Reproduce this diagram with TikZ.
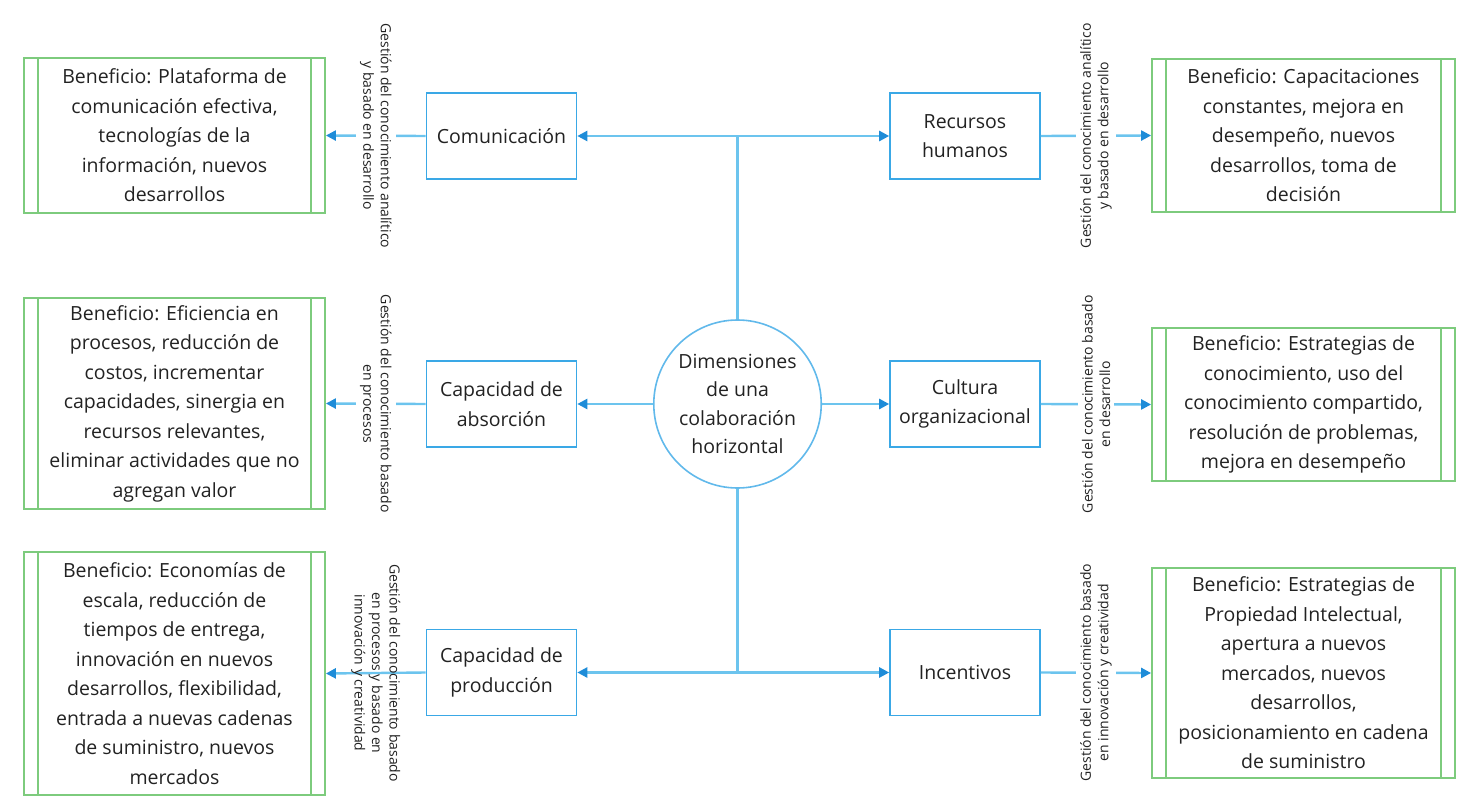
\documentclass[tikz,border=0pt]{standalone}
\usepackage{fontspec}
\setmainfont{Open Sans}
\usetikzlibrary{shapes.geometric,arrows.meta}
\definecolor{gbord}{HTML}{7DCB7D}
\definecolor{bbord}{HTML}{3AA8E6}
\definecolor{conn}{HTML}{6CC4EE}
\definecolor{tipc}{HTML}{1E8CD8}
\definecolor{txt}{HTML}{222222}
\begin{document}
\begin{tikzpicture}[x=1pt,y=-1pt,
 benefit/.style={draw=gbord, line width=1.8pt, minimum width=301pt, align=center, inner sep=0pt, text=txt, font=\fontsize{19.5}{29.5}\selectfont},
 dim/.style={draw=bbord, line width=1.6pt, minimum width=150pt, minimum height=86pt, align=center, inner sep=0pt, text=txt, font=\fontsize{19.5}{29.5}\selectfont, fill=white},
 centre/.style={draw=bbord!80, line width=1.6pt, ellipse, minimum width=150pt, minimum height=168pt, align=center, inner sep=0pt, text=txt, font=\fontsize{19.5}{28.5}\selectfont, fill=white},
 link/.style={draw=conn, line width=2.4pt, -{Triangle[length=10pt,width=10pt,color=tipc,fill=tipc]}},
 plain/.style={draw=conn, line width=2.4pt},
 gest/.style={font=\fontsize{14}{17.5}\selectfont, text=txt, align=center, inner sep=4pt},
 inner/.style={draw=gbord, line width=1.8pt}
]
\useasboundingbox (0,0) rectangle (1464,805);

% benefit boxes
\node[benefit, minimum height=155pt] (g1) at (174.5,135.5) {Beneficio: Plataforma de\\comunicación efectiva,\\tecnologías de la\\información, nuevos\\desarrollos};
\node[benefit, minimum height=211pt] (g2) at (174.5,403.5) {Beneficio: Eficiencia en\\procesos, reducción de\\costos, incrementar\\capacidades, sinergia en\\recursos relevantes,\\eliminar actividades que no\\agregan valor};
\node[benefit, minimum height=243pt] (g3) at (174.5,673.5) {Beneficio: Economías de\\escala, reducción de\\tiempos de entrega,\\innovación en nuevos\\desarrollos, flexibilidad,\\entrada a nuevas cadenas\\de suministro, nuevos\\mercados};
\node[benefit, minimum height=153pt, minimum width=303pt] (r1) at (1303.5,135.5) {Beneficio: Capacitaciones\\constantes, mejora en\\desempeño, nuevos\\desarrollos, toma de\\decisión};
\node[benefit, minimum height=153pt, minimum width=303pt] (r2) at (1303.5,404.5) {Beneficio: Estrategias de\\conocimiento, uso del\\conocimiento compartido,\\resolución de problemas,\\mejora en desempeño};
\node[benefit, minimum height=210pt, minimum width=303pt] (r3) at (1303.5,673) {Beneficio: Estrategias de\\Propiedad Intelectual,\\apertura a nuevos\\mercados, nuevos\\desarrollos,\\posicionamiento en cadena\\de suministro};
\foreach \n in {g1,g2,g3,r1,r2,r3}{
  \draw[inner] ([xshift=15pt]\n.north west) -- ([xshift=15pt]\n.south west);
  \draw[inner] ([xshift=-15pt]\n.north east) -- ([xshift=-15pt]\n.south east);
}

% dimension boxes
\node[dim] (com) at (501.5,136) {Comunicación};
\node[dim] (rh) at (965,136) {Recursos\\humanos};
\node[dim] (abs) at (501.5,404) {Capacidad de\\absorción};
\node[dim] (cult) at (965,404) {Cultura\\organizacional};
\node[dim] (prod) at (501.5,672.5) {Capacidad de\\producción};
\node[dim] (inc) at (965,672.5) {Incentivos};

% centre
\node[centre] (c) at (737.5,404) {Dimensiones\\de una\\colaboración\\horizontal};
\coordinate (j1) at (737.5,136);
\coordinate (j3) at (737.5,672.5);

\draw[plain] (c.north) -- (j1);
\draw[plain] (c.south) -- (j3);
\draw[link] (j1) -- (com.east);
\draw[link] (j1) -- (rh.west);
\draw[link] (c.west) -- (abs.east);
\draw[link] (c.east) -- (cult.west);
\draw[link] (j3) -- (prod.east);
\draw[link] (j3) -- (inc.west);

% links to benefits
\draw[link] (com.west) -- node[gest, rotate=-90, fill=white] {Gestión del conocimiento analítico\\y basado en desarrollo} (g1.east);
\draw[link] (abs.west) -- node[gest, rotate=-90, fill=white] {Gestión del conocimiento basado\\en procesos} (g2.east);
\draw[link] (prod.west) -- node[gest, rotate=-90] {Gestión del conocimiento basado\\en procesos y basado en\\innovación y creatividad} (g3.east);
\draw[link] (rh.east) -- node[gest, rotate=90, fill=white] {Gestión del conocimiento analítico\\y basado en desarrollo} (r1.west);
\draw[link] (cult.east) -- node[gest, rotate=90, fill=white] {Gestión del conocimiento basado\\en desarrollo} (r2.west);
\draw[link] (inc.east) -- node[gest, rotate=90, fill=white] {Gestión del conocimiento basado\\en innovación y creatividad} (r3.west);
\end{tikzpicture}
\end{document}
